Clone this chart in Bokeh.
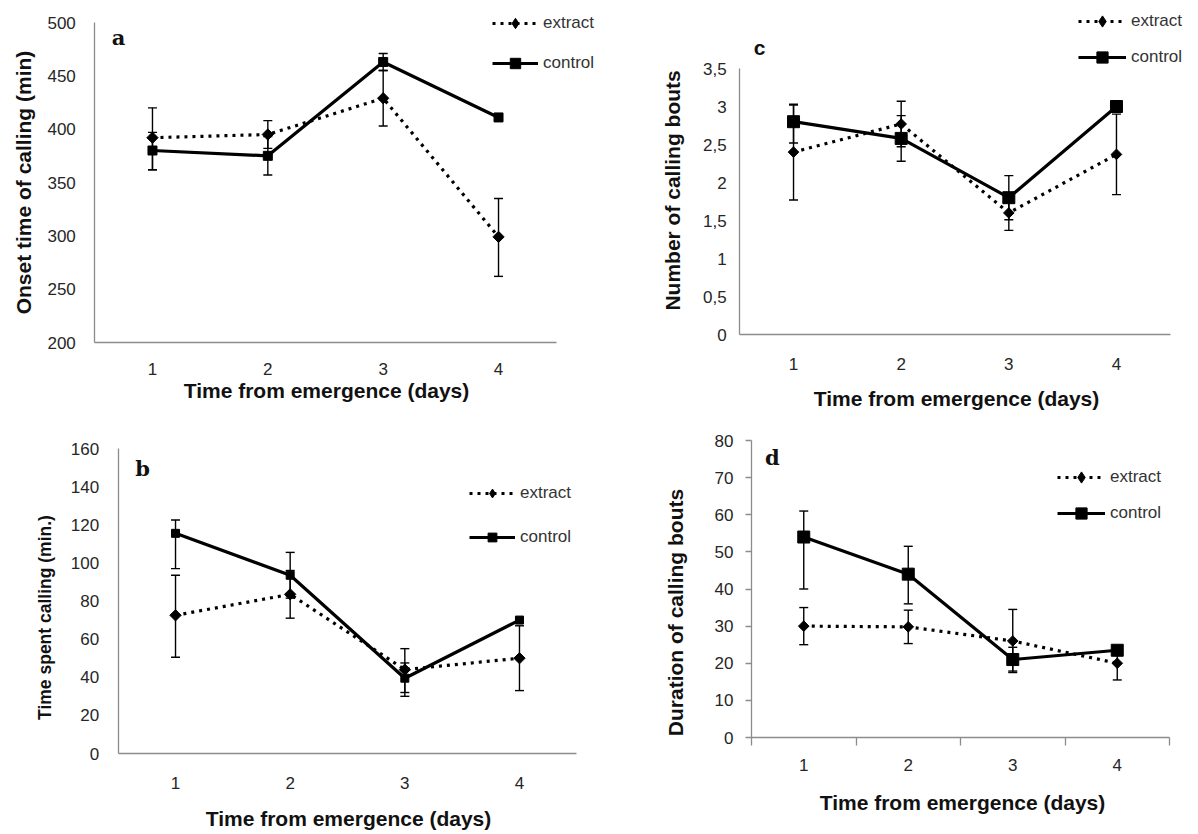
import math

from bokeh.embed import file_html
from bokeh.layouts import column, row
from bokeh.models import (ColumnDataSource, FixedTicker, Label, Legend,
                          LegendItem, Range1d, TeeHead, Whisker)
from bokeh.plotting import figure
from bokeh.resources import INLINE

# ---------------------------------------------------------------- data
days = [1, 2, 3, 4]
day_labels = ["1", "2", "3", "4"]
x_title = "Time from emergence (days)"

# a: onset time of calling (min)
onset_extract = [392, 395, 429, 299]
onset_extract_up = [28, 13, 26, 36]
onset_extract_down = [30, 13, 26, 37]
onset_control = [380, 375, 463, 411]
onset_control_up = [17, 18, 8, 2]
onset_control_down = [18, 18, 8, 2]
onset_ticks = [200, 250, 300, 350, 400, 450, 500]

# b: time spent calling (min.)
spent_extract = [72.5, 83.5, 44, 50]
spent_extract_up = [21, 12.5, 11, 17]
spent_extract_down = [22, 12.5, 12, 17]
spent_control = [115.5, 93.5, 39.5, 70]
spent_control_up = [7, 12, 8, 1]
spent_control_down = [18.5, 12, 9.5, 1]
spent_ticks = [0, 20, 40, 60, 80, 100, 120, 140, 160]

# c: number of calling bouts
bouts_extract = [2.4, 2.77, 1.6, 2.37]
bouts_extract_up = [0.63, 0.3, 0.23, 0.53]
bouts_extract_down = [0.63, 0.3, 0.23, 0.53]
bouts_control = [2.8, 2.58, 1.8, 3.0]
bouts_control_up = [0.22, 0.3, 0.29, 0.02]
bouts_control_down = [0.28, 0.3, 0.29, 0.02]
bouts_ticks = [0, 0.5, 1, 1.5, 2, 2.5, 3, 3.5]
bouts_tick_labels = ["0", "0,5", "1", "1,5", "2", "2,5", "3", "3,5"]

# d: duration of calling bouts
dur_extract = [30, 29.8, 26, 20]
dur_extract_up = [5, 4.5, 8.5, 4.5]
dur_extract_down = [5, 4.5, 8.5, 4.5]
dur_control = [54, 44, 21, 23.5]
dur_control_up = [7, 7.5, 3.3, 0.5]
dur_control_down = [14, 8, 3.1, 0.5]
dur_ticks = [0, 10, 20, 30, 40, 50, 60, 70, 80]

AXIS_GREY = "#8c8c8c"
TEXT = "#262626"
SANS = "Liberation Sans"


def make_panel(w, h, x_px, y_px, y_bounds, y_ticks, y_title,
               extract, ex_up, ex_down, control, co_up, co_down,
               letter, letter_pos, letter_font,
               legend_px, legend_glyph_h, legend_spacing, glyph_w,
               tick_std_x, tick_std_y,
               x_title_px, y_title_px, y_title_size,
               sq_size, dia_size, tick_overrides=None, boxed_ticks=False):
    # the frame covers the whole figure; axes sit at fixed data locations so
    # that titles, legend and panel letter are all drawn inside the frame
    kx = 4.0 / (x_px[1] - x_px[0])
    ky = (y_bounds[1] - y_bounds[0]) / (y_px[1] - y_px[0])

    def dx(px):
        return 0.5 + (px - x_px[0]) * kx

    def dy(py):
        return y_bounds[0] + (py - y_px[0]) * ky

    p = figure(width=w, height=h, output_backend="svg", toolbar_location=None,
               x_range=Range1d(dx(0), dx(w)), y_range=Range1d(dy(h), dy(0)),
               min_border=0, min_border_left=0, min_border_right=0,
               min_border_top=0, min_border_bottom=0)
    p.outline_line_color = None
    p.grid.visible = False
    p.background_fill_color = "white"
    p.border_fill_color = "white"

    # x axis
    xa = p.xaxis[0]
    xa.fixed_location = y_bounds[0]
    xa.bounds = (0.5, 4.5)
    if boxed_ticks:
        xa.ticker = FixedTicker(ticks=days, minor_ticks=[0.5, 1.5, 2.5, 3.5, 4.5])
        xa.minor_tick_out = 8
        xa.minor_tick_in = 0
        xa.minor_tick_line_color = AXIS_GREY
        xa.minor_tick_line_width = 1.3
    else:
        xa.ticker = FixedTicker(ticks=days, minor_ticks=[])
        xa.minor_tick_line_color = None
    xa.major_label_overrides = {d: s for d, s in zip(days, day_labels)}
    xa.major_tick_out = 0
    xa.major_tick_in = 0
    xa.axis_line_color = AXIS_GREY
    xa.axis_line_width = 1.3
    xa.major_label_text_font = SANS
    xa.major_label_text_font_size = "17px"
    xa.major_label_text_color = TEXT
    xa.major_label_standoff = tick_std_x

    # y axis
    ya = p.yaxis[0]
    ya.fixed_location = 0.5
    ya.bounds = y_bounds
    ya.ticker = FixedTicker(ticks=y_ticks, minor_ticks=[])
    if tick_overrides:
        ya.major_label_overrides = tick_overrides
    ya.minor_tick_line_color = None
    if boxed_ticks:
        ya.major_tick_out = 6
        ya.major_tick_line_color = AXIS_GREY
        ya.major_tick_line_width = 1.3
    else:
        ya.major_tick_out = 0
    ya.major_tick_in = 0
    ya.axis_line_color = AXIS_GREY
    ya.axis_line_width = 1.3
    ya.major_label_text_font = SANS
    ya.major_label_text_font_size = "17px"
    ya.major_label_text_color = TEXT
    ya.major_label_standoff = tick_std_y

    # axis titles
    p.add_layout(Label(x=dx(x_title_px[0]), y=dy(x_title_px[1]), text=x_title,
                       text_align="center", text_baseline="middle",
                       text_font=SANS, text_font_style="bold",
                       text_font_size="21px", text_color="#111111"))
    p.add_layout(Label(x=dx(y_title_px[0]), y=dy(y_title_px[1]), text=y_title,
                       angle=math.pi / 2, text_align="center",
                       text_baseline="middle",
                       text_font=SANS, text_font_style="bold",
                       text_font_size=y_title_size, text_color="#111111"))

    ex_src = ColumnDataSource(dict(
        x=days, y=extract,
        hi=[v + u for v, u in zip(extract, ex_up)],
        lo=[v - d for v, d in zip(extract, ex_down)]))
    co_src = ColumnDataSource(dict(
        x=days, y=control,
        hi=[v + u for v, u in zip(control, co_up)],
        lo=[v - d for v, d in zip(control, co_down)]))

    # lines and markers
    ex_line = p.line("x", "y", source=ex_src, line_color="black", line_width=3.2,
                     line_dash="3 5")
    co_line = p.line("x", "y", source=co_src, line_color="black", line_width=3.2)
    # small diamond kept under the rotated square: it supplies the legend symbol
    ex_key = p.scatter("x", "y", source=ex_src, marker="diamond", size=1,
                       fill_color="black", line_color="black")
    p.scatter("x", "y", source=ex_src, marker="square", size=dia_size,
              angle=math.pi / 4, fill_color="black", line_color="black")
    co_mark = p.scatter("x", "y", source=co_src, marker="square", size=sq_size,
                        fill_color="black", line_color="black")

    # standard error bars
    for src in (ex_src, co_src):
        p.add_layout(Whisker(source=src, base="x", upper="hi", lower="lo",
                             dimension="height", line_color="black",
                             line_width=1.4,
                             upper_head=TeeHead(size=9, line_width=1.4,
                                                line_color="black"),
                             lower_head=TeeHead(size=9, line_width=1.4,
                                                line_color="black")))

    # legend: top-left corner given in figure pixels
    legend_h = 2 * legend_glyph_h + legend_spacing
    legend = Legend(items=[LegendItem(label="extract", renderers=[ex_line, ex_key]),
                           LegendItem(label="control", renderers=[co_line, co_mark])],
                    location=(legend_px[0], h - legend_px[1] - legend_h),
                    orientation="vertical",
                    glyph_width=glyph_w, glyph_height=legend_glyph_h,
                    label_height=legend_glyph_h, label_width=40, label_standoff=5,
                    spacing=legend_spacing, padding=0, margin=0,
                    border_line_color=None, background_fill_alpha=0,
                    label_text_font=SANS, label_text_font_size="17px",
                    label_text_color="#333333")
    p.add_layout(legend)

    p.add_layout(Label(x=letter_pos[0], y=letter_pos[1], text=letter,
                       text_font=letter_font, text_font_style="bold",
                       text_font_size="21px", text_color="#111111",
                       text_align="center", text_baseline="alphabetic"))
    return p


pa = make_panel(600, 420, (94.3, 555.7), (342, 22),
                (200, 500), onset_ticks, "Onset time of calling (min)",
                onset_extract, onset_extract_up, onset_extract_down,
                onset_control, onset_control_up, onset_control_down,
                "a", (0.705, 486), "DejaVu Serif",
                (492, 10), 26, 14, 46,
                20, 19, (326, 390), (23, 182), "21px", 9, 8)

pc = make_panel(598, 420, (139.2, 569.8), (334, 68),
                (0, 3.5), bouts_ticks, "Number  of calling bouts",
                bouts_extract, bouts_extract_up, bouts_extract_down,
                bouts_control, bouts_control_up, bouts_control_down,
                "c", (0.684, 3.77), SANS,
                (478, 7), 28, 8, 48,
                23, 13, (356, 398), (72, 187), "21px", 12, 7.5,
                tick_overrides={t: s for t, s in zip(bouts_ticks, bouts_tick_labels)})

pb = make_panel(600, 414, (117.7, 576.3), (333, 28),
                (0, 160), spent_ticks, "Time spent calling (min.)",
                spent_extract, spent_extract_up, spent_extract_down,
                spent_control, spent_control_up, spent_control_down,
                "b", (0.712, 149.5), "DejaVu Serif",
                (469, 62), 22, 22, 46,
                23, 19, (348, 398), (44, 197), "17.5px", 8, 8)

pd = make_panel(598, 414, (151, 569), (317, 20),
                (0, 80), dur_ticks, "Duration of calling bouts",
                dur_extract, dur_extract_up, dur_extract_down,
                dur_control, dur_control_up, dur_control_down,
                "d", (0.70, 75.4), "DejaVu Serif",
                (457, 43), 28, 8, 48,
                13, 12, (362, 382), (75, 192), "21px", 12, 7.5, boxed_ticks=True)

layout = column(row(pa, pc, spacing=0), row(pb, pd, spacing=0), spacing=0)

with open("out.html", "w") as f:
    f.write(file_html(layout, INLINE))
